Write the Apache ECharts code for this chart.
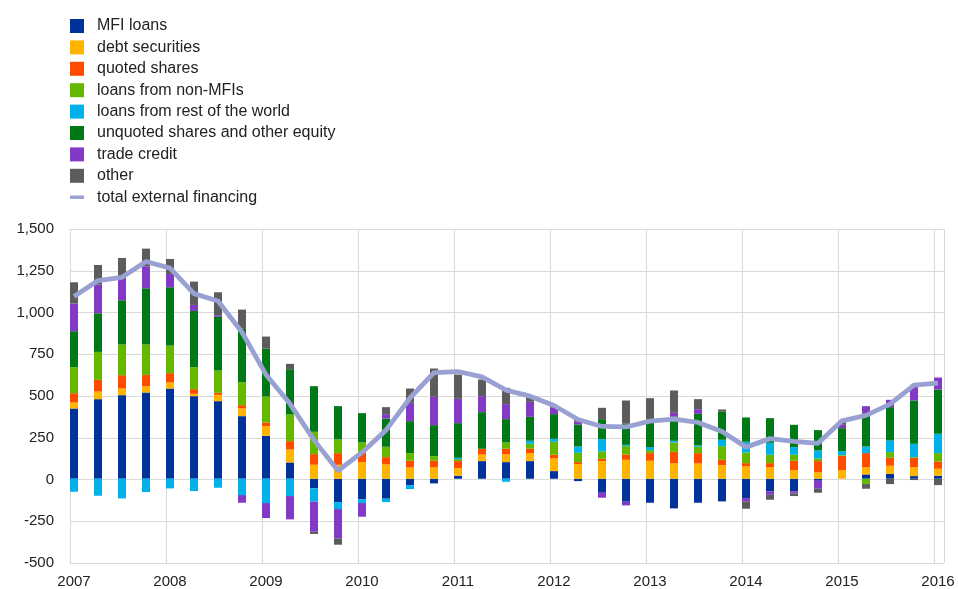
<!DOCTYPE html>
<html>
<head>
<meta charset="utf-8">
<script src="https://cdn.jsdelivr.net/npm/echarts@6/dist/echarts.min.js"></script>
<style>
html,body{margin:0;padding:0;background:#fff;}
#chart{width:958px;height:589px;}
</style>
</head>
<body>
<div id="chart"></div>
<script>
// Quarterly categories 2007 Q1 .. 2016 Q1
const quarters = [];
for (let y = 2007; y <= 2016; y++) {
  for (let q = 1; q <= 4; q++) {
    if (y === 2016 && q > 1) break;
    quarters.push(y + ' Q' + q);
  }
}
const yearTicks = ['2007','2008','2009','2010','2011','2012','2013','2014','2015','2016'];

const mfiLoans = [422,478,502,518,542,496,466,376,258,98,-58,-140,-124,-120,-40,-28,18,106,100,106,46,-14,-84,-138,-144,-178,-144,-136,-116,-76,-76,-12,0,26,30,16,18];
const debtSecurities = [36,46,40,38,36,14,38,46,58,78,84,84,100,86,68,68,46,40,46,48,76,88,106,114,108,94,92,82,74,70,52,40,52,44,48,54,42];
const quotedShares = [56,70,80,68,56,28,12,20,22,50,64,70,60,44,40,40,42,34,34,26,22,12,14,32,46,68,62,32,20,24,56,66,86,84,48,56,44];
const loansNonMFI = [156,168,184,182,166,132,134,138,156,160,134,82,58,62,46,28,12,0,38,30,78,56,44,50,18,56,38,82,64,50,36,16,4,-32,34,4,50];
const loansRoW = [-78,-102,-118,-80,-58,-74,-54,-98,-146,-104,-80,-42,-22,-20,-22,0,8,0,-18,18,18,38,74,8,18,10,8,38,64,72,46,48,24,40,70,80,116];
const unquotedEquity = [216,232,266,338,350,338,322,320,288,272,274,200,176,170,192,186,208,220,140,144,148,132,120,126,166,146,190,168,146,148,134,122,138,200,200,260,266];
const tradeCredit = [166,172,138,132,80,36,10,-46,-90,-140,-180,-178,-82,26,110,170,146,96,90,90,38,16,-30,-22,0,22,28,0,-22,-20,-12,-48,20,42,44,94,72];
const other = [128,118,116,106,90,140,138,116,72,32,-14,-36,0,42,86,170,146,100,98,34,10,14,68,140,128,134,60,14,-42,-30,-16,-24,16,-28,-32,-8,-38];
const totalExternal = [1095,1190,1210,1305,1265,1112,1068,880,625,450,232,48,158,292,485,638,644,612,532,496,440,356,314,311,346,358,338,284,190,241,225,213,348,381,448,562,574];

const barSeries = [
  ['MFI loans', mfiLoans, '#003299'],
  ['debt securities', debtSecurities, '#FFB400'],
  ['quoted shares', quotedShares, '#FF4B00'],
  ['loans from non-MFIs', loansNonMFI, '#65B800'],
  ['loans from rest of the world', loansRoW, '#00B1EA'],
  ['unquoted shares and other equity', unquotedEquity, '#007816'],
  ['trade credit', tradeCredit, '#8139C6'],
  ['other', other, '#5C5C5C']
];
const LINE_COLOR = '#99A1D3';

const FONT = "'Liberation Sans', Arial, sans-serif";
const chart = echarts.init(document.getElementById('chart'), null, {renderer: 'canvas'});

const series = barSeries.map(([name, data, color]) => ({
  name, type: 'bar', stack: 'all', data,
  xAxisIndex: 0, yAxisIndex: 0,
  barWidth: 8,
  itemStyle: {color},
  emphasis: {disabled: true},
  animation: false
}));
series.push({
  name: 'total external financing', type: 'line', data: totalExternal,
  xAxisIndex: 0, yAxisIndex: 0,
  symbol: 'none', showSymbol: false,
  lineStyle: {color: LINE_COLOR, width: 4.8},
  itemStyle: {color: LINE_COLOR},
  z: 5, animation: false
});

const legendData = barSeries.map(([name]) => ({name, icon: 'rect'}));
legendData.push({name: 'total external financing', icon: 'path://M0,0H16V4H0Z', itemStyle: {color: LINE_COLOR}});

chart.setOption({
  animation: false,
  backgroundColor: '#fff',
  legend: {
    orient: 'vertical', left: 65, top: 13,
    itemWidth: 14, itemHeight: 14, itemGap: 5.4,
    symbolKeepAspect: true,
    data: legendData,
    textStyle: {fontFamily: FONT, fontSize: 16, color: '#222', padding: [0,0,0,8]},
    selectedMode: false
  },
  grid: [
    {left: 62, width: 888, top: 229, bottom: 26},
    {left: 70, right: 14, top: 229, bottom: 26}
  ],
  xAxis: [
    {
      type: 'category', gridIndex: 0, data: quarters, boundaryGap: true,
      axisLine: {show: false}, axisTick: {show: false}, splitLine: {show: false},
      axisLabel: {
        interval: 3, margin: 12, color: '#222', fontFamily: FONT, fontSize: 15,
        formatter: (v, i) => yearTicks[i / 4]
      }
    },
    {
      type: 'value', gridIndex: 1, min: 2007, max: 2016.097, interval: 1,
      axisLine: {show: true, lineStyle: {color: '#D9D9D9', width: 1}},
      axisTick: {show: false}, axisLabel: {show: false},
      splitLine: {show: true, lineStyle: {color: '#D9D9D9', width: 1}}
    }
  ],
  yAxis: [
    {
      type: 'value', gridIndex: 0, min: -500, max: 1500, interval: 250,
      axisLine: {show: false}, axisTick: {show: false}, axisLabel: {show: false},
      splitLine: {show: false}
    },
    {
      type: 'value', gridIndex: 1, min: -500, max: 1500, interval: 250,
      axisLine: {show: false}, axisTick: {show: false},
      axisLabel: {
        margin: 16, color: '#222', fontFamily: FONT, fontSize: 15,
        formatter: v => v.toLocaleString('en-US')
      },
      splitLine: {show: true, lineStyle: {color: '#D9D9D9', width: 1}}
    }
  ],
  series
});
</script>
</body>
</html>
